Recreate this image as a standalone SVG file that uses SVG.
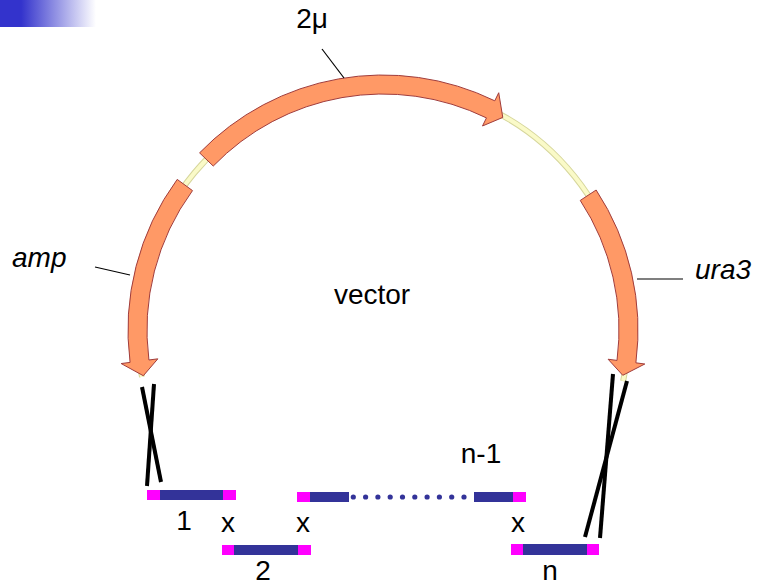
<svg xmlns="http://www.w3.org/2000/svg" width="757" height="587" viewBox="0 0 757 587">
<defs>
<linearGradient id="hdr" x1="0" y1="0" x2="1" y2="0">
<stop offset="0" stop-color="#3333cc"/>
<stop offset="0.22" stop-color="#3333cc"/>
<stop offset="1" stop-color="#ffffff"/>
</linearGradient>
<style>
.arrow{fill:#ff9966;stroke:#a03c3c;stroke-width:1;stroke-linejoin:miter}
.bb1{fill:none;stroke:#d6d69c;stroke-width:6}
.bb2{fill:none;stroke:#fafac8;stroke-width:4}
.lead{stroke:#000;stroke-width:1.2;fill:none}
.t{font-family:"Liberation Sans",Arial,sans-serif;font-size:28px;fill:#000}
.it{font-style:italic}
.mid{text-anchor:middle}
.blue{fill:#333399}
.mag{fill:#ff00ff}
.cross{stroke:#000;stroke-width:4;fill:none}
</style>
</defs>
<rect width="757" height="587" fill="#fff"/>
<rect x="0" y="0" width="96" height="27" fill="url(#hdr)"/>

<g id="backbone">
<path class="bb1" d="M142.01,376.84 A245.5,245.5 0 1 1 623.14,381.04"/>
<path class="bb2" d="M142.01,376.84 A245.5,245.5 0 1 1 623.14,381.04"/>
</g>

<g id="amp">
<path class="arrow" d="M177.2,179.4 A255,255 0 0 0 130.07,362.4 L121.14,363.55 L143.32,375.72 L157.84,358.84 L148.91,359.99 A236,236 0 0 1 192.5,190.6 Z"/>
<line class="lead" x1="95" y1="267" x2="130" y2="275"/>
<text class="t it" x="12" y="267">amp</text>
</g>

<g id="twomu">
<path class="arrow" d="M199.57,152.86 A255,255 0 0 1 494.78,100.81 L498.73,92.72 L502.78,117.42 L482.51,125.97 L486.46,117.89 A236,236 0 0 0 213.24,166.06 Z"/>
<line class="lead" x1="322" y1="49" x2="344" y2="78"/>
<text class="t mid" x="312" y="28">2μ</text>
</g>

<g id="ura3">
<path class="arrow" d="M596.13,190 A255,255 0 0 1 635.88,362.84 L644.8,364 L622.76,375.3 L608.11,359.24 L617.03,360.4 A236,236 0 0 0 580.25,200.43 Z"/>
<line class="lead" x1="637" y1="279" x2="683" y2="279" stroke="#444"/>
<text class="t it" x="695" y="279">ura3</text>
</g>

<g id="vector">
<text class="t mid" x="372" y="304">vector</text>
</g>

<g id="connectors">
<line class="cross" x1="142" y1="387" x2="161" y2="482"/>
<line class="cross" x1="154" y1="384" x2="147" y2="486"/>
<line class="cross" x1="613" y1="374" x2="600" y2="538"/>
<line class="cross" x1="627" y1="381" x2="585" y2="537"/>
</g>

<g id="frag1">
<rect class="mag" x="147" y="490" width="13" height="10"/>
<rect class="blue" x="160" y="490" width="63" height="10"/>
<rect class="mag" x="223" y="490" width="13" height="10"/>
<text class="t mid" x="184" y="530">1</text>
</g>

<g id="frag2">
<rect class="mag" x="222" y="545" width="12" height="10"/>
<rect class="blue" x="234" y="545" width="64" height="10"/>
<rect class="mag" x="298" y="545" width="13" height="10"/>
<text class="t mid" x="263" y="580">2</text>
</g>

<g id="fragn1">
<rect class="mag" x="297" y="492" width="13" height="10"/>
<rect class="blue" x="310" y="492" width="39" height="10"/>
<g class="blue">
<circle cx="353.3" cy="497" r="2.6"/>
<circle cx="365.6" cy="497" r="2.6"/>
<circle cx="377.9" cy="497" r="2.6"/>
<circle cx="390.2" cy="497" r="2.6"/>
<circle cx="402.5" cy="497" r="2.6"/>
<circle cx="414.8" cy="497" r="2.6"/>
<circle cx="427.1" cy="497" r="2.6"/>
<circle cx="439.4" cy="497" r="2.6"/>
<circle cx="451.7" cy="497" r="2.6"/>
<circle cx="464" cy="497" r="2.6"/>
</g>
<rect class="blue" x="474" y="492" width="39" height="10"/>
<rect class="mag" x="513" y="492" width="13" height="10"/>
<text class="t mid" x="481" y="463">n-1</text>
</g>

<g id="fragn">
<rect class="mag" x="511" y="544" width="12" height="11"/>
<rect class="blue" x="523" y="544" width="64" height="11"/>
<rect class="mag" x="587" y="544" width="12" height="11"/>
<text class="t mid" x="550" y="580">n</text>
</g>

<g id="xs">
<text class="t mid" x="228" y="532">x</text>
<text class="t mid" x="303" y="532">x</text>
<text class="t mid" x="518" y="532">x</text>
</g>
</svg>
